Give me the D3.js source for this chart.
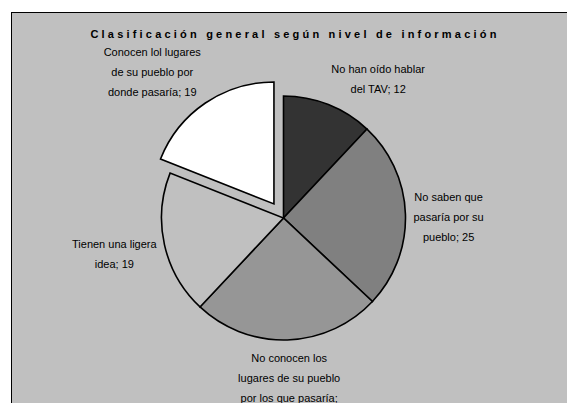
<!DOCTYPE html>
<html>
<head>
<meta charset="utf-8">
<script src="https://cdn.jsdelivr.net/npm/d3@7"></script>
<style>
  body { margin: 0; background: #fff; }
  text { font-family: "Liberation Sans", Arial, sans-serif; fill: #000; }
</style>
</head>
<body>
<script>
// categories, clockwise from 12 o'clock (each name split in the lines it is shown in)
const categories = [
  ["No han oído hablar", "del TAV"],
  ["No saben que", "pasaría por su", "pueblo"],
  ["No conocen los", "lugares de su pueblo", "por los que pasaría"],
  ["Tienen una ligera", "idea"],
  ["Conocen lol lugares", "de su pueblo por", "donde pasaría"]
];
const values = [12, 25, 25, 19, 19];
const explodedSlice = [false, false, false, false, true];
const title = "Clasificación general según nivel de información";

let width = 567;
let height = 403;
let cx = 283.5, cy = 218, radius = 122;
let explodeBy = 17;
let labelRadius = 130;
let lineHeight = 20;

let data = categories.map((lines, i) => ({lines: lines, value: values[i], exploded: explodedSlice[i], i: i}));

let color = d3.scaleOrdinal()
              .domain(d3.range(values.length))
              .range(["#333333", "#808080", "#969696", "#c0c0c0", "#ffffff"]);

let svg = d3.select("body").append("svg")
            .attr("width", width)
            .attr("height", height);

// chart area, cut by the picture at right and bottom
svg.append("rect")
   .attr("x", 11.5)
   .attr("y", 12.5)
   .attr("width", 620)
   .attr("height", 440)
   .attr("fill", "#c0c0c0")
   .attr("stroke", "#000")
   .attr("stroke-width", 1);

// title
svg.append("text")
   .attr("x", 295)
   .attr("y", 38)
   .attr("text-anchor", "middle")
   .style("font-size", "11px")
   .style("font-weight", "bold")
   .style("letter-spacing", "3.2px")
   .text(title);

let pie = d3.pie().sort(null).value(d => d.value);
let arc = d3.arc().innerRadius(0).outerRadius(radius);
let arcs = pie(data);

function offset(d) {
  if (!d.data.exploded) return [0, 0];
  let a = (d.startAngle + d.endAngle) / 2;
  return [explodeBy * Math.sin(a), -explodeBy * Math.cos(a)];
}

svg.append("g")
   .selectAll("path")
   .data(arcs)
   .enter()
   .append("path")
     .attr("transform", d => {
       let o = offset(d);
       return `translate(${cx + o[0]},${cy + o[1]})`;
     })
     .attr("d", arc)
     .attr("fill", d => color(d.data.i))
     .attr("stroke", "#000")
     .attr("stroke-width", 1.6)
     .attr("stroke-linejoin", "miter");

// labels: "name; value", placed outside the pie like Excel does
let labels = svg.append("g");
arcs.forEach(function(d) {
  let a = (d.startAngle + d.endAngle) / 2;
  let s = Math.sin(a), c = Math.cos(a);
  let o = offset(d);
  let px = cx + o[0] + labelRadius * s;
  let py = cy + o[1] - labelRadius * c;

  let g = labels.append("g");
  let lines = d.data.lines.slice();
  let last = lines.pop();
  let measure = t => {
    let el = g.append("text").style("font-size", "11px").text(t);
    let w = el.node().getComputedTextLength();
    el.remove();
    return w;
  };
  let maxW = d3.max(lines.map(measure)) || 0;
  let withValue = `${last}; ${d.data.value}`;
  if (lines.length && measure(withValue) > maxW) {
    lines.push(`${last};`, `${d.data.value}`);
  } else {
    lines.push(withValue);
  }

  let w = d3.max(lines.map(measure));
  let h = lines.length * lineHeight;
  let bx = Math.abs(s) > 0.3 ? (s > 0 ? px + w / 2 : px - w / 2) : px + s * w / 2;
  // side labels sit a little lower than the plain rule gives
  let by = py - c * h / 2 + (1 - Math.abs(c)) * 4;

  g.selectAll("text")
   .data(lines)
   .enter()
   .append("text")
     .attr("x", bx)
     .attr("y", (t, i) => by + (i - (lines.length - 1) / 2) * lineHeight + 4)
     .attr("text-anchor", "middle")
     .style("font-size", "11px")
     .text(t => t);
});
</script>
</body>
</html>
